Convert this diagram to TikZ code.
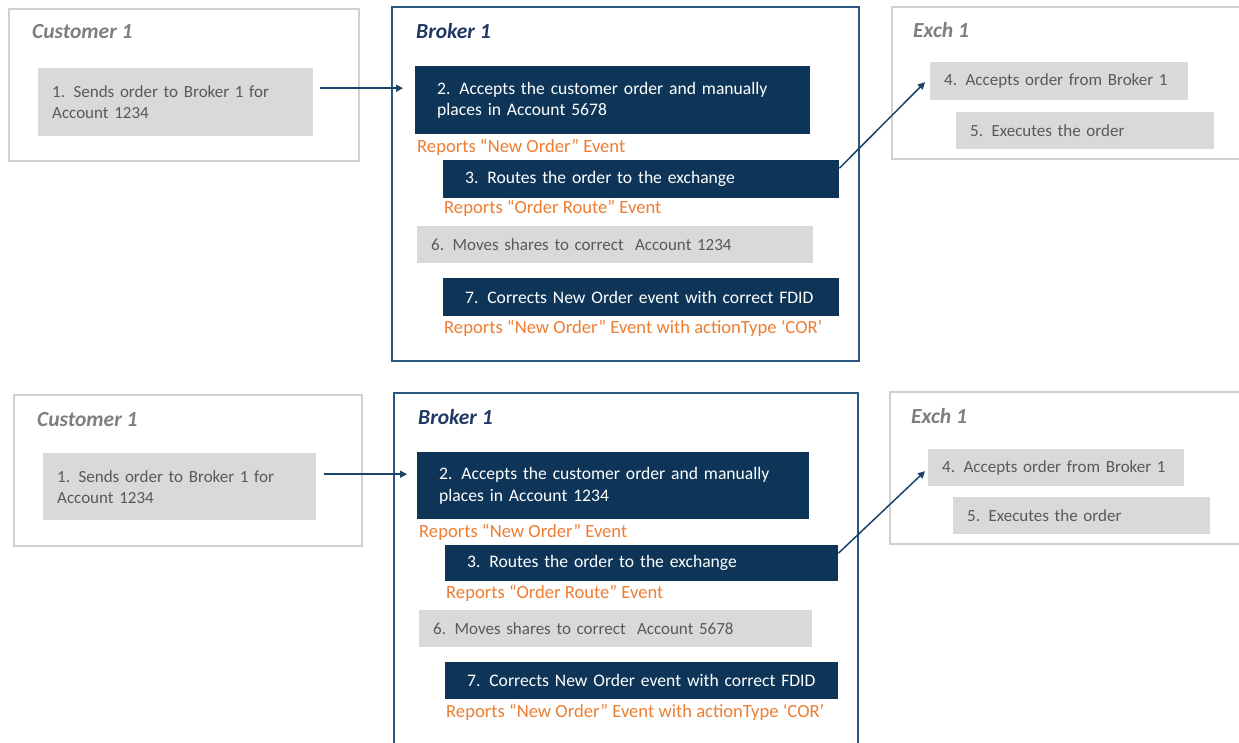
\documentclass[tikz,border=0pt]{standalone}
\usepackage{fontspec}
\setmainfont{Carlito}
\usetikzlibrary{arrows.meta}
\definecolor{navy}{HTML}{0E3558}
\definecolor{boxgray}{HTML}{D9D9D9}
\definecolor{txtgray}{HTML}{595959}
\definecolor{ttlgray}{HTML}{7F7F7F}
\definecolor{outgray}{HTML}{D0D0D0}
\definecolor{brokerline}{HTML}{2A5780}
\definecolor{brokerttl}{HTML}{1F3864}
\definecolor{orng}{HTML}{ED7D31}
\definecolor{arrcol}{HTML}{1B4468}
\tikzset{
  outerg/.style={draw=outgray, line width=1.2pt, fill=white},
  outerb/.style={draw=brokerline, line width=1.8pt, fill=white},
  graybox/.style={font=\fontsize{17}{21}\selectfont, fill=boxgray, text=txtgray, anchor=north west, inner xsep=14pt, inner ysep=0pt, align=left},
  navybox/.style={font=\fontsize{17.6}{21.5}\selectfont, fill=navy, text=white, anchor=north west, inner xsep=22pt, inner ysep=0pt, align=left},
  ttl/.style={font=\fontsize{21.5}{24}\selectfont\bfseries\itshape, anchor=west, inner sep=0pt},
  rep/.style={font=\fontsize{18.6}{22}\selectfont, text=orng, anchor=west, inner sep=0pt},
  arr/.style={draw=arrcol, line width=1.5pt, -{Triangle[length=7pt,width=7pt]}},
}
\begin{document}
\begin{tikzpicture}[x=1pt,y=-1pt]
\clip (0,0) rectangle (1239,743);
\fill[white] (0,0) rectangle (1239,743);
% ===== top panel =====
\path[outerg] (9,9) rectangle (359,161);
\node[ttl, text=ttlgray] (tc) at (32,32) {Customer 1};
\node[graybox, minimum width=275pt, minimum height=68pt, text width=247pt] (ta1) at (38,68) {1. Sends order to Broker 1 for\\Account 1234};
\path[outerb] (392,7) rectangle (859,361);
\node[ttl, text=brokerttl] (tb) at (416,31) {Broker 1};
\node[navybox, minimum width=395pt, minimum height=68pt, text width=351pt] (ta2) at (415,66) {2. Accepts the customer order and manually\\places in Account 5678};
\node[rep] (tr1) at (417,147) {Reports “New Order” Event};
\node[navybox, minimum width=396pt, minimum height=38pt, text width=352pt] (ta3) at (443,160) {3. Routes the order to the exchange};
\node[rep] (tr2) at (444,208) {Reports “Order Route” Event};
\node[graybox, minimum width=396pt, minimum height=37pt, text width=368pt] (ta6) at (417,226) {6. Moves shares to correct\ \ Account 1234};
\node[navybox, minimum width=396pt, minimum height=38pt, text width=352pt] (ta7) at (443,278) {7. Corrects New Order event with correct FDID};
\node[rep] (tr3) at (444,328) {Reports “New Order” Event with actionType ‘COR’};
\path[outerg] (892,7) rectangle (1245,159);
\node[ttl, text=ttlgray] (te) at (913,30) {Exch 1};
\node[graybox, minimum width=258pt, minimum height=38pt, text width=230pt] (ta4) at (930,62) {4. Accepts order from Broker 1};
\node[graybox, minimum width=258pt, minimum height=37pt, text width=230pt] (ta5) at (956,112) {5. Executes the order};
\draw[arr] ([shift={(7,-14)}]ta1.east) -- ([shift={(-12,-12)}]ta2.west);
\draw[arr] ([shift={(0,-11)}]ta3.east) -- ([shift={(-5,1)}]ta4.west);
% ===== bottom panel =====
\path[outerg] (14,395) rectangle (362,546);
\node[ttl, text=ttlgray] (bc) at (37,420) {Customer 1};
\node[graybox, minimum width=273pt, minimum height=67pt, text width=245pt] (ba1) at (43,453) {1. Sends order to Broker 1 for\\Account 1234};
\path[outerb] (394,393) rectangle (858,760);
\node[ttl, text=brokerttl] (bb) at (418,417) {Broker 1};
\node[navybox, minimum width=392pt, minimum height=67pt, text width=348pt] (ba2) at (417,452) {2. Accepts the customer order and manually\\places in Account 1234};
\node[rep] (br1) at (419,532) {Reports “New Order” Event};
\node[navybox, minimum width=393pt, minimum height=36pt, text width=349pt] (ba3) at (445,545) {3. Routes the order to the exchange};
\node[rep] (br2) at (446,593) {Reports “Order Route” Event};
\node[graybox, minimum width=393pt, minimum height=37pt, text width=365pt] (ba6) at (419,610) {6. Moves shares to correct\ \ Account 5678};
\node[navybox, minimum width=393pt, minimum height=37pt, text width=349pt] (ba7) at (445,662) {7. Corrects New Order event with correct FDID};
\node[rep] (br3) at (446,712) {Reports “New Order” Event with actionType ‘COR’};
\path[outerg] (890,392) rectangle (1245,544);
\node[ttl, text=ttlgray] (be) at (911,416) {Exch 1};
\node[graybox, minimum width=256pt, minimum height=37pt, text width=228pt] (ba4) at (928,449) {4. Accepts order from Broker 1};
\node[graybox, minimum width=257pt, minimum height=37pt, text width=229pt] (ba5) at (953,497) {5. Executes the order};
\draw[arr] ([shift={(8,-12.5)}]ba1.east) -- ([shift={(-10,-11.5)}]ba2.west);
\draw[arr] ([shift={(0,-10)}]ba3.east) -- ([shift={(-3,3.5)}]ba4.west);
\end{tikzpicture}
\end{document}
